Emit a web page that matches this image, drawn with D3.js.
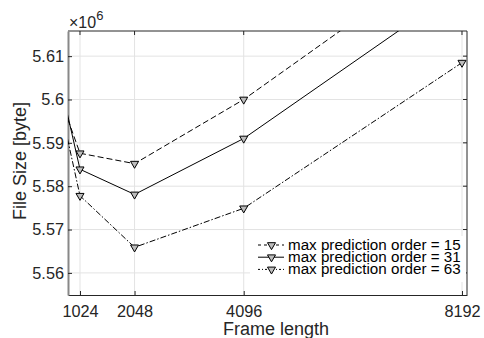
<!DOCTYPE html>
<html>
<head>
<meta charset="utf-8">
<script src="https://cdn.jsdelivr.net/npm/d3@7"></script>
<style>
	body { margin: 0; background: #fff; }
	svg { font-family: "Liberation Sans", Arial, sans-serif; }
	.grid line { stroke: #e3e3e3; stroke-width: 1; }
	.tick text { fill: #262626; }
</style>
</head>
<body>
<svg id="chart" width="484" height="338"></svg>
<script>
var frameLengths = [512, 1024, 2048, 4096, 8192];
var order15 = [5.6052, 5.5876, 5.5852, 5.6000, 5.6358];
var order31 = [5.6116, 5.5839, 5.5781, 5.5910, 5.6260];
var order63 = [5.6065, 5.5778, 5.5659, 5.5749, 5.6085];
var xTicks = [1024, 2048, 4096, 8192];
var yTicks = [5.56, 5.57, 5.58, 5.59, 5.6, 5.61];

var series = [
	{ name: 'max prediction order = 15', values: order15, dash: '6,3', legendDash: '3,3' },
	{ name: 'max prediction order = 31', values: order31, dash: null, legendDash: null },
	{ name: 'max prediction order = 63', values: order63, dash: '6,2,1.5,2', legendDash: '2,2,1,2' }
];

var svg = d3.select('#chart');
var mLeft = 68, mRight = 467, mTop = 31, mBottom = 295;

var x = d3.scaleLinear().domain([799, 8286]).range([mLeft, mRight]);
var y = d3.scaleLinear().domain([5.5549, 5.6158]).range([mBottom, mTop]);

svg.append('defs').append('clipPath').attr('id', 'plotClip')
	.append('rect').attr('x', mLeft).attr('y', mTop)
	.attr('width', mRight - mLeft).attr('height', mBottom - mTop);

// grid
var grid = svg.append('g').attr('class', 'grid');
grid.selectAll('line.gx').data(xTicks).enter().append('line')
	.attr('x1', function (d) { return x(d); }).attr('x2', function (d) { return x(d); })
	.attr('y1', mTop).attr('y2', mBottom);
grid.selectAll('line.gy').data(yTicks).enter().append('line')
	.attr('y1', function (d) { return y(d); }).attr('y2', function (d) { return y(d); })
	.attr('x1', mLeft).attr('x2', mRight);

// box
svg.append('line').attr('x1', mLeft).attr('x2', mRight).attr('y1', mTop).attr('y2', mTop)
	.attr('stroke', '#262626');
svg.append('line').attr('x1', mRight).attr('x2', mRight).attr('y1', mTop).attr('y2', mBottom)
	.attr('stroke', '#262626');

// axes
svg.append('g')
	.attr('transform', 'translate(0,' + mBottom + ')')
	.call(d3.axisBottom(x).tickValues(xTicks).tickFormat(d3.format('d')).tickSize(-4).tickPadding(10).tickSizeOuter(0))
	.call(function (g) {
		g.select('.domain').attr('stroke', '#262626');
		g.selectAll('.tick line').attr('stroke', '#262626');
		g.selectAll('text').attr('font-size', 16.3);
	});
svg.append('g')
	.attr('transform', 'translate(' + mLeft + ',0)')
	.call(d3.axisLeft(y).tickValues(yTicks).tickFormat(d3.format('~g')).tickSize(-4).tickPadding(4).tickSizeOuter(0))
	.call(function (g) {
		g.select('.domain').attr('stroke', '#888').attr('stroke-width', 2);
		g.selectAll('.tick line').attr('stroke', '#262626');
		g.selectAll('text').attr('font-size', 16.3);
	});

// inner ticks on top and right
svg.selectAll('line.tt').data(xTicks).enter().append('line')
	.attr('x1', function (d) { return x(d); }).attr('x2', function (d) { return x(d); })
	.attr('y1', mTop).attr('y2', mTop + 4).attr('stroke', '#262626');
svg.selectAll('line.rt').data(yTicks).enter().append('line')
	.attr('y1', function (d) { return y(d); }).attr('y2', function (d) { return y(d); })
	.attr('x1', mRight).attr('x2', mRight - 4).attr('stroke', '#262626');

// lines
var line = d3.line()
	.x(function (d, i) { return x(frameLengths[i]); })
	.y(function (d) { return y(d); });

var plot = svg.append('g').attr('clip-path', 'url(#plotClip)');
var tri = d3.symbol().type(d3.symbolTriangle).size(28);

series.forEach(function (s) {
	plot.append('path')
		.attr('d', line(s.values))
		.attr('fill', 'none')
		.attr('stroke', '#000')
		.attr('stroke-width', 1)
		.attr('stroke-dasharray', s.dash);
	plot.selectAll(null).data(s.values).enter().append('path')
		.attr('d', tri)
		.attr('transform', function (d, i) { return 'translate(' + x(frameLengths[i]) + ',' + y(d) + ') rotate(180)'; })
		.attr('fill', '#bdbdbd')
		.attr('stroke', '#000')
		.attr('stroke-width', 1);
});

// legend
var legend = svg.append('g').attr('transform', 'translate(250,236)');
legend.append('rect').attr('width', 216).attr('height', 46).attr('fill', '#fff');
series.forEach(function (s, i) {
	var g = legend.append('g').attr('transform', 'translate(0,' + (9 + i * 12.2) + ')');
	g.append('line').attr('x1', 8).attr('x2', 34).attr('y1', 0).attr('y2', 0)
		.attr('stroke', '#000').attr('stroke-dasharray', s.legendDash);
	g.append('path').attr('d', tri).attr('transform', 'translate(21.5,0) rotate(180)')
		.attr('fill', '#bdbdbd').attr('stroke', '#000');
	g.append('text').attr('x', 38).attr('y', 5).attr('font-size', 15.2).attr('fill', '#000').text(s.name);
});

// labels
var expo = svg.append('text').attr('x', 69).attr('y', 28).attr('fill', '#262626')
	.style('font-size', '16px');
expo.append('tspan').text('×10');
expo.append('tspan').attr('dy', -8).style('font-size', '13px').text('6');
svg.append('text').attr('transform', 'translate(26,161) rotate(-90)')
	.attr('text-anchor', 'middle').attr('font-size', 18).attr('fill', '#262626').text('File Size [byte]');
svg.append('text').attr('x', 276).attr('y', 335)
	.attr('text-anchor', 'middle').attr('font-size', 18).attr('fill', '#262626').text('Frame length');
</script>
</body>
</html>
